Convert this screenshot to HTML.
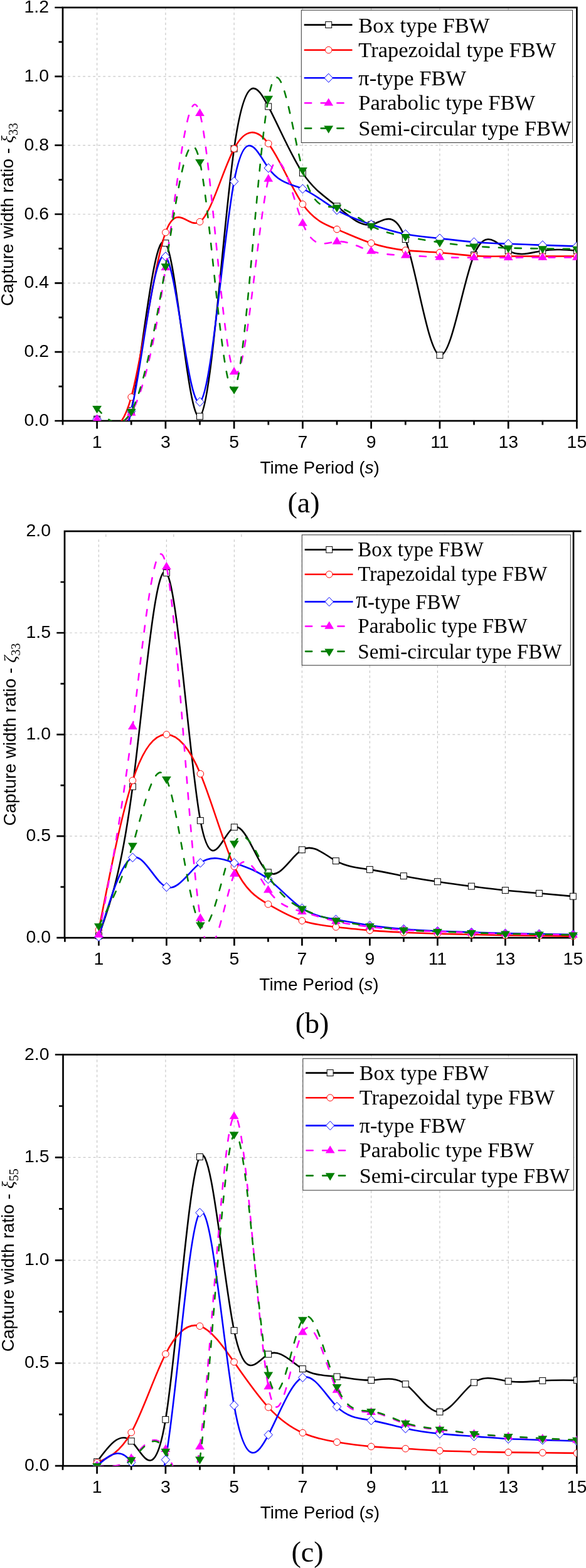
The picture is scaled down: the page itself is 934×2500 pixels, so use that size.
<!DOCTYPE html>
<html><head><meta charset="utf-8"><title>Capture width ratio</title>
<style>
html,body{margin:0;padding:0;background:#fff}
svg{display:block}
.t{font-family:"Liberation Sans",Arial,sans-serif;font-size:28.4px;fill:#000}
.ti{font-family:"Liberation Sans",Arial,sans-serif;font-size:28px;fill:#000}
.gk{font-family:"Liberation Serif","DejaVu Serif",serif;font-size:28px;font-style:italic}
.sub{font-family:"Liberation Serif",serif;font-size:20px}
.lg{font-family:"Liberation Serif","Times New Roman",serif;fill:#000}
.cap{font-family:"Liberation Serif","Times New Roman",serif;font-size:46px;fill:#000}
</style></head><body>
<svg width="934" height="2500" viewBox="0 0 934 2500">
<rect width="934" height="2500" fill="#fff"/>
<clipPath id="ca"><rect x="100" y="12" width="819.4" height="659"/></clipPath>
<path d="M154.6 12V671M263.9 12V671M373.1 12V671M482.4 12V671M591.6 12V671M700.9 12V671M810.2 12V671M100 561.2H919.4M100 451.3H919.4M100 341.5H919.4M100 231.6H919.4M100 121.8H919.4" stroke="#c8c8c8" stroke-width="1.2" stroke-dasharray="3.9 4.13" fill="none"/>
<path d="M100.0 671v6.5M154.6 671v12.5M209.2 671v6.5M263.9 671v12.5M318.5 671v6.5M373.1 671v12.5M427.8 671v6.5M482.4 671v12.5M537.0 671v6.5M591.6 671v12.5M646.3 671v6.5M700.9 671v12.5M755.5 671v6.5M810.2 671v12.5M864.8 671v6.5M919.4 671v12.5M100 671.0h-12.7M100 561.2h-12.7M100 451.3h-12.7M100 341.5h-12.7M100 231.6h-12.7M100 121.8h-12.7M100 12.0h-12.7M100 616.1h-6.5M100 506.2h-6.5M100 396.4h-6.5M100 286.6h-6.5M100 176.7h-6.5M100 66.9h-6.5" stroke="#000" stroke-width="2.7" fill="none"/>
<rect x="100" y="12" width="819.4" height="659" fill="none" stroke="#000" stroke-width="2.7"/>
<path d="M154.6 668.3C172.8 704.3 191.0 740.4 209.2 654.5C227.4 568.6 245.6 360.8 263.9 387.6C282.1 414.4 300.3 675.9 318.5 663.9C336.7 651.9 354.9 366.4 373.1 237.1C391.3 107.8 409.5 134.7 427.8 169.9C446.0 205.0 464.2 248.5 482.4 275.9C500.6 303.2 518.8 314.3 537.0 328.8C555.2 343.4 573.4 361.5 591.6 358.1C609.9 354.7 628.1 329.8 646.3 381.6C664.5 433.3 682.7 561.7 700.9 566.4C719.1 571.0 737.3 452.0 755.5 406.6C773.7 361.1 792.0 389.3 810.2 399.7C828.4 410.1 846.6 402.7 864.8 399.7C883.0 396.7 901.2 398.2 919.4 399.7" fill="none" stroke="#000" stroke-width="2.6" clip-path="url(#ca)"/>
<g clip-path="url(#ca)"><rect x="149.7" y="663.3" width="9.9" height="9.9" fill="#fff" stroke="#000" stroke-width="1"/><rect x="204.3" y="649.6" width="9.9" height="9.9" fill="#fff" stroke="#000" stroke-width="1"/><rect x="258.9" y="382.7" width="9.9" height="9.9" fill="#fff" stroke="#000" stroke-width="1"/><rect x="313.5" y="658.9" width="9.9" height="9.9" fill="#fff" stroke="#000" stroke-width="1"/><rect x="368.2" y="232.2" width="9.9" height="9.9" fill="#fff" stroke="#000" stroke-width="1"/><rect x="422.8" y="164.9" width="9.9" height="9.9" fill="#fff" stroke="#000" stroke-width="1"/><rect x="477.4" y="270.9" width="9.9" height="9.9" fill="#fff" stroke="#000" stroke-width="1"/><rect x="532.1" y="323.9" width="9.9" height="9.9" fill="#fff" stroke="#000" stroke-width="1"/><rect x="586.7" y="353.2" width="9.9" height="9.9" fill="#fff" stroke="#000" stroke-width="1"/><rect x="641.3" y="376.6" width="9.9" height="9.9" fill="#fff" stroke="#000" stroke-width="1"/><rect x="696.0" y="561.4" width="9.9" height="9.9" fill="#fff" stroke="#000" stroke-width="1"/><rect x="750.6" y="401.6" width="9.9" height="9.9" fill="#fff" stroke="#000" stroke-width="1"/><rect x="805.2" y="394.7" width="9.9" height="9.9" fill="#fff" stroke="#000" stroke-width="1"/><rect x="859.8" y="394.7" width="9.9" height="9.9" fill="#fff" stroke="#000" stroke-width="1"/><rect x="914.5" y="394.7" width="9.9" height="9.9" fill="#fff" stroke="#000" stroke-width="1"/></g>
<path d="M154.6 668.3C172.8 683.5 191.0 698.7 209.2 633.1C227.4 567.5 245.6 421.0 263.9 370.6C282.1 320.2 300.3 365.8 318.5 353.6C336.7 341.3 354.9 271.3 373.1 237.1C391.3 203.0 409.5 204.8 427.8 228.9C446.0 253.0 464.2 299.2 482.4 325.6C500.6 351.9 518.8 358.2 537.0 365.6C555.2 373.1 573.4 381.6 591.6 387.6C609.9 393.7 628.1 397.3 646.3 399.1C664.5 401.0 682.7 401.2 700.9 402.7C719.1 404.1 737.3 406.8 755.5 407.9C773.7 409.1 792.0 408.8 810.2 408.6C828.4 408.5 846.6 408.6 864.8 408.6C883.0 408.7 901.2 408.6 919.4 408.5" fill="none" stroke="#f00" stroke-width="2.6" clip-path="url(#ca)"/>
<g clip-path="url(#ca)"><circle cx="154.6" cy="668.3" r="5.3" fill="#fff" stroke="#f00" stroke-width="1"/><circle cx="209.2" cy="633.1" r="5.3" fill="#fff" stroke="#f00" stroke-width="1"/><circle cx="263.9" cy="370.6" r="5.3" fill="#fff" stroke="#f00" stroke-width="1"/><circle cx="318.5" cy="353.6" r="5.3" fill="#fff" stroke="#f00" stroke-width="1"/><circle cx="373.1" cy="237.1" r="5.3" fill="#fff" stroke="#f00" stroke-width="1"/><circle cx="427.8" cy="228.9" r="5.3" fill="#fff" stroke="#f00" stroke-width="1"/><circle cx="482.4" cy="325.6" r="5.3" fill="#fff" stroke="#f00" stroke-width="1"/><circle cx="537.0" cy="365.6" r="5.3" fill="#fff" stroke="#f00" stroke-width="1"/><circle cx="591.6" cy="387.6" r="5.3" fill="#fff" stroke="#f00" stroke-width="1"/><circle cx="646.3" cy="399.1" r="5.3" fill="#fff" stroke="#f00" stroke-width="1"/><circle cx="700.9" cy="402.7" r="5.3" fill="#fff" stroke="#f00" stroke-width="1"/><circle cx="755.5" cy="407.9" r="5.3" fill="#fff" stroke="#f00" stroke-width="1"/><circle cx="810.2" cy="408.6" r="5.3" fill="#fff" stroke="#f00" stroke-width="1"/><circle cx="864.8" cy="408.6" r="5.3" fill="#fff" stroke="#f00" stroke-width="1"/><circle cx="919.4" cy="408.5" r="5.3" fill="#fff" stroke="#f00" stroke-width="1"/></g>
<path d="M154.6 668.3C172.8 700.7 191.0 733.1 209.2 655.6C227.4 578.2 245.6 390.8 263.9 409.0C282.1 427.3 300.3 651.0 318.5 640.8C336.7 630.6 354.9 386.3 373.1 289.3C391.3 192.3 409.5 242.6 427.8 267.9C446.0 293.1 464.2 293.3 482.4 301.1C500.6 308.8 518.8 324.1 537.0 334.9C555.2 345.7 573.4 351.9 591.6 358.0C609.9 364.0 628.1 369.8 646.3 373.3C664.5 376.9 682.7 378.3 700.9 380.1C719.1 382.0 737.3 384.5 755.5 386.0C773.7 387.5 792.0 388.0 810.2 388.7C828.4 389.4 846.6 390.2 864.8 390.9C883.0 391.6 901.2 392.1 919.4 392.6" fill="none" stroke="#00f" stroke-width="2.6" clip-path="url(#ca)"/>
<g clip-path="url(#ca)"><path d="M147.9 668.3L154.6 661.2L161.3 668.3L154.6 675.4Z" fill="#fff" stroke="#00f" stroke-width="1"/><path d="M202.5 655.6L209.2 648.5L215.9 655.6L209.2 662.7Z" fill="#fff" stroke="#00f" stroke-width="1"/><path d="M257.2 409.0L263.9 401.9L270.6 409.0L263.9 416.1Z" fill="#fff" stroke="#00f" stroke-width="1"/><path d="M311.8 640.8L318.5 633.7L325.2 640.8L318.5 647.9Z" fill="#fff" stroke="#00f" stroke-width="1"/><path d="M366.4 289.3L373.1 282.2L379.8 289.3L373.1 296.4Z" fill="#fff" stroke="#00f" stroke-width="1"/><path d="M421.1 267.9L427.8 260.8L434.4 267.9L427.8 275.0Z" fill="#fff" stroke="#00f" stroke-width="1"/><path d="M475.7 301.1L482.4 294.0L489.1 301.1L482.4 308.2Z" fill="#fff" stroke="#00f" stroke-width="1"/><path d="M530.3 334.9L537.0 327.8L543.7 334.9L537.0 342.0Z" fill="#fff" stroke="#00f" stroke-width="1"/><path d="M584.9 358.0L591.6 350.9L598.3 358.0L591.6 365.1Z" fill="#fff" stroke="#00f" stroke-width="1"/><path d="M639.6 373.3L646.3 366.2L653.0 373.3L646.3 380.4Z" fill="#fff" stroke="#00f" stroke-width="1"/><path d="M694.2 380.1L700.9 373.0L707.6 380.1L700.9 387.2Z" fill="#fff" stroke="#00f" stroke-width="1"/><path d="M748.8 386.0L755.5 378.9L762.2 386.0L755.5 393.1Z" fill="#fff" stroke="#00f" stroke-width="1"/><path d="M803.5 388.7L810.2 381.6L816.9 388.7L810.2 395.8Z" fill="#fff" stroke="#00f" stroke-width="1"/><path d="M858.1 390.9L864.8 383.8L871.5 390.9L864.8 398.0Z" fill="#fff" stroke="#00f" stroke-width="1"/><path d="M912.7 392.6L919.4 385.5L926.1 392.6L919.4 399.7Z" fill="#fff" stroke="#00f" stroke-width="1"/></g>
<path d="M154.6 668.3C172.8 678.8 191.0 689.3 209.2 658.4C227.4 627.4 245.6 554.9 263.9 426.6C282.1 298.3 300.3 114.1 318.5 180.6C336.7 247.0 354.9 564.0 373.1 593.0C391.3 622.1 409.5 363.2 427.8 285.5C446.0 207.8 464.2 311.3 482.4 356.0C500.6 400.7 518.8 386.6 537.0 385.1C555.2 383.7 573.4 394.8 591.6 400.4C609.9 406.0 628.1 406.2 646.3 407.1C664.5 407.9 682.7 409.4 700.9 410.1C719.1 410.8 737.3 410.7 755.5 410.7C773.7 410.7 792.0 410.7 810.2 410.7C828.4 410.6 846.6 410.5 864.8 410.4C883.0 410.3 901.2 410.4 919.4 410.4" fill="none" stroke="#f0f" stroke-width="2.6" stroke-dasharray="10.2 15.5" stroke-linecap="round" clip-path="url(#ca)"/>
<g clip-path="url(#ca)"><path d="M147.2 672.6L162.0 672.6L154.6 660.4Z" fill="#f0f"/><path d="M201.8 662.7L216.6 662.7L209.2 650.5Z" fill="#f0f"/><path d="M256.5 430.9L271.3 430.9L263.9 418.7Z" fill="#f0f"/><path d="M311.1 184.9L325.9 184.9L318.5 172.7Z" fill="#f0f"/><path d="M365.7 597.3L380.5 597.3L373.1 585.1Z" fill="#f0f"/><path d="M420.4 289.8L435.1 289.8L427.8 277.6Z" fill="#f0f"/><path d="M475.0 360.3L489.8 360.3L482.4 348.1Z" fill="#f0f"/><path d="M529.6 389.4L544.4 389.4L537.0 377.2Z" fill="#f0f"/><path d="M584.2 404.7L599.0 404.7L591.6 392.5Z" fill="#f0f"/><path d="M638.9 411.4L653.7 411.4L646.3 399.2Z" fill="#f0f"/><path d="M693.5 414.4L708.3 414.4L700.9 402.2Z" fill="#f0f"/><path d="M748.1 415.0L762.9 415.0L755.5 402.8Z" fill="#f0f"/><path d="M802.8 415.0L817.6 415.0L810.2 402.8Z" fill="#f0f"/><path d="M857.4 414.7L872.2 414.7L864.8 402.5Z" fill="#f0f"/><path d="M912.0 414.7L926.8 414.7L919.4 402.5Z" fill="#f0f"/></g>
<path d="M154.6 651.2C172.8 670.5 191.0 689.8 209.2 656.2C227.4 622.6 245.6 536.1 263.9 424.4C282.1 312.7 300.3 175.7 318.5 258.0C336.7 340.3 354.9 641.8 373.1 620.7C391.3 599.7 409.5 255.9 427.8 156.9C446.0 58.0 464.2 203.7 482.4 271.2C500.6 338.6 518.8 327.7 537.0 330.5C555.2 333.3 573.4 349.8 591.6 359.9C609.9 370.0 628.1 373.7 646.3 377.2C664.5 380.7 682.7 383.9 700.9 386.5C719.1 389.1 737.3 391.2 755.5 392.6C773.7 394.0 792.0 394.7 810.2 395.3C828.4 395.9 846.6 396.2 864.8 396.4C883.0 396.6 901.2 396.8 919.4 396.9" fill="none" stroke="#007f00" stroke-width="2.6" stroke-dasharray="10.2 15.5" stroke-linecap="round" clip-path="url(#ca)"/>
<g clip-path="url(#ca)"><path d="M147.2 647.1L162.0 647.1L154.6 659.3Z" fill="#007f00"/><path d="M201.8 652.1L216.6 652.1L209.2 664.3Z" fill="#007f00"/><path d="M256.5 420.3L271.3 420.3L263.9 432.5Z" fill="#007f00"/><path d="M311.1 253.9L325.9 253.9L318.5 266.1Z" fill="#007f00"/><path d="M365.7 616.6L380.5 616.6L373.1 628.8Z" fill="#007f00"/><path d="M420.4 152.8L435.1 152.8L427.8 165.0Z" fill="#007f00"/><path d="M475.0 267.1L489.8 267.1L482.4 279.3Z" fill="#007f00"/><path d="M529.6 326.4L544.4 326.4L537.0 338.6Z" fill="#007f00"/><path d="M584.2 355.8L599.0 355.8L591.6 368.0Z" fill="#007f00"/><path d="M638.9 373.1L653.7 373.1L646.3 385.3Z" fill="#007f00"/><path d="M693.5 382.4L708.3 382.4L700.9 394.6Z" fill="#007f00"/><path d="M748.1 388.5L762.9 388.5L755.5 400.7Z" fill="#007f00"/><path d="M802.8 391.2L817.6 391.2L810.2 403.4Z" fill="#007f00"/><path d="M857.4 392.3L872.2 392.3L864.8 404.5Z" fill="#007f00"/><path d="M912.0 392.8L926.8 392.8L919.4 405.0Z" fill="#007f00"/></g>
<text x="154.6" y="714.0" text-anchor="middle" class="t">1</text>
<text x="263.9" y="714.0" text-anchor="middle" class="t">3</text>
<text x="373.1" y="714.0" text-anchor="middle" class="t">5</text>
<text x="482.4" y="714.0" text-anchor="middle" class="t">7</text>
<text x="591.6" y="714.0" text-anchor="middle" class="t">9</text>
<text x="700.9" y="714.0" text-anchor="middle" class="t">11</text>
<text x="810.2" y="714.0" text-anchor="middle" class="t">13</text>
<text x="919.4" y="714.0" text-anchor="middle" class="t">15</text>
<text x="78.0" y="679.0" text-anchor="end" class="t">0.0</text>
<text x="78.0" y="569.2" text-anchor="end" class="t">0.2</text>
<text x="78.0" y="459.3" text-anchor="end" class="t">0.4</text>
<text x="78.0" y="349.5" text-anchor="end" class="t">0.6</text>
<text x="78.0" y="239.6" text-anchor="end" class="t">0.8</text>
<text x="78.0" y="129.8" text-anchor="end" class="t">1.0</text>
<text x="78.0" y="20.0" text-anchor="end" class="t">1.2</text>
<text x="509.7" y="755.0" text-anchor="middle" class="ti">Time Period (<tspan font-style="italic">s</tspan>)</text>
<text transform="translate(21.2 342.0) rotate(-90)" text-anchor="middle" class="ti">Capture width ratio - <tspan class="gk">ξ</tspan><tspan class="sub" dy="7">33</tspan></text>
<text x="484" y="817" text-anchor="middle" class="cap">(a)</text>
<rect x="480.3" y="16.2" width="432.2" height="211.3" fill="#fff" stroke="#333" stroke-width="1"/>
<path d="M484.7 39.6h76.8" stroke="#000" stroke-width="2.6" fill="none"/>
<rect x="518.8" y="34.6" width="9.9" height="9.9" fill="#fff" stroke="#000" stroke-width="1"/>
<text x="571.3" y="51.6" class="lg" font-size="34.5">Box type FBW</text>
<path d="M484.7 79.7h76.8" stroke="#f00" stroke-width="2.6" fill="none"/>
<circle cx="523.7" cy="79.7" r="5.3" fill="#fff" stroke="#f00" stroke-width="1"/>
<text x="571.3" y="91.3" class="lg" font-size="34.5">Trapezoidal type FBW</text>
<path d="M484.7 124.3h76.8" stroke="#00f" stroke-width="2.6" fill="none"/>
<path d="M517.0 124.3L523.7 117.2L530.4 124.3L523.7 131.4Z" fill="#fff" stroke="#00f" stroke-width="1"/>
<text x="571.3" y="135.6" class="lg" font-size="34.5">π-type FBW</text>
<path d="M486.0 164.3h74.2" stroke="#f0f" stroke-width="2.6" stroke-dasharray="10.2 15.5" stroke-linecap="round" fill="none"/>
<path d="M516.3 168.6L531.1 168.6L523.7 156.4Z" fill="#f0f"/>
<text x="571.3" y="175.3" class="lg" font-size="34.5">Parabolic type FBW</text>
<path d="M486.0 204.6h74.2" stroke="#007f00" stroke-width="2.6" stroke-dasharray="10.2 15.5" stroke-linecap="round" fill="none"/>
<path d="M516.3 200.5L531.1 200.5L523.7 212.7Z" fill="#007f00"/>
<text x="571.3" y="215.7" class="lg" font-size="34.5">Semi-circular type FBW</text>
<clipPath id="cb"><rect x="103" y="847" width="811" height="648.2"/></clipPath>
<path d="M157.4 860.2V1495.2M168.8 852v4M265.4 860.2V1495.2M276.8 852v4M373.4 860.2V1495.2M384.8 852v4M481.4 860.2V1495.2M492.8 852v4M589.4 860.2V1495.2M600.8 852v4M697.4 860.2V1495.2M708.8 852v4M805.4 860.2V1495.2M816.8 852v4M103 1333.2H914M103 1171.1H914M103 1009.0H914" stroke="#c8c8c8" stroke-width="1.2" stroke-dasharray="3.9 4.13" fill="none"/>
<path d="M103.4 1495.2v6.5M157.4 1495.2v12.5M211.4 1495.2v6.5M265.4 1495.2v12.5M319.4 1495.2v6.5M373.4 1495.2v12.5M427.4 1495.2v6.5M481.4 1495.2v12.5M535.4 1495.2v6.5M589.4 1495.2v12.5M643.4 1495.2v6.5M697.4 1495.2v12.5M751.4 1495.2v6.5M805.4 1495.2v12.5M859.4 1495.2v6.5M913.4 1495.2v12.5M103 1495.2h-12.7M103 1333.2h-12.7M103 1171.1h-12.7M103 1009.0h-12.7M103 1414.2h-6.5M103 1252.1h-6.5M103 1090.1h-6.5M103 928.0h-6.5" stroke="#000" stroke-width="2.7" fill="none"/>
<rect x="103" y="847" width="811" height="648.2" fill="none" stroke="#000" stroke-width="2.7"/>
<path d="M914 847h12.5" stroke="#000" stroke-width="2.7"/>
<path d="M157.4 1492.0C175.4 1442.1 193.4 1392.2 211.4 1254.1C229.4 1116.0 247.4 889.7 265.4 913.4C283.4 937.2 301.4 1211.2 319.4 1308.3C337.4 1405.5 355.4 1325.9 373.4 1318.9C391.4 1311.9 409.4 1377.5 427.4 1390.8C445.4 1404.2 463.4 1365.2 481.4 1354.9C499.4 1344.5 517.4 1362.9 535.4 1372.7C553.4 1382.5 571.4 1383.7 589.4 1386.4C607.4 1389.1 625.4 1393.2 643.4 1396.7C661.4 1400.2 679.4 1403.1 697.4 1405.7C715.4 1408.4 733.4 1410.8 751.4 1413.1C769.4 1415.4 787.4 1417.6 805.4 1419.5C823.4 1421.3 841.4 1422.8 859.4 1424.3C877.4 1425.9 895.4 1427.5 913.4 1429.1" fill="none" stroke="#000" stroke-width="2.6" clip-path="url(#cb)"/>
<g><rect x="152.5" y="1487.0" width="9.9" height="9.9" fill="#fff" stroke="#000" stroke-width="1"/><rect x="206.5" y="1249.2" width="9.9" height="9.9" fill="#fff" stroke="#000" stroke-width="1"/><rect x="260.4" y="908.5" width="9.9" height="9.9" fill="#fff" stroke="#000" stroke-width="1"/><rect x="314.4" y="1303.4" width="9.9" height="9.9" fill="#fff" stroke="#000" stroke-width="1"/><rect x="368.4" y="1313.9" width="9.9" height="9.9" fill="#fff" stroke="#000" stroke-width="1"/><rect x="422.4" y="1385.9" width="9.9" height="9.9" fill="#fff" stroke="#000" stroke-width="1"/><rect x="476.4" y="1349.9" width="9.9" height="9.9" fill="#fff" stroke="#000" stroke-width="1"/><rect x="530.4" y="1367.7" width="9.9" height="9.9" fill="#fff" stroke="#000" stroke-width="1"/><rect x="584.4" y="1381.4" width="9.9" height="9.9" fill="#fff" stroke="#000" stroke-width="1"/><rect x="638.4" y="1391.7" width="9.9" height="9.9" fill="#fff" stroke="#000" stroke-width="1"/><rect x="692.4" y="1400.8" width="9.9" height="9.9" fill="#fff" stroke="#000" stroke-width="1"/><rect x="746.4" y="1408.1" width="9.9" height="9.9" fill="#fff" stroke="#000" stroke-width="1"/><rect x="800.4" y="1414.5" width="9.9" height="9.9" fill="#fff" stroke="#000" stroke-width="1"/><rect x="854.4" y="1419.4" width="9.9" height="9.9" fill="#fff" stroke="#000" stroke-width="1"/><rect x="908.4" y="1424.2" width="9.9" height="9.9" fill="#fff" stroke="#000" stroke-width="1"/></g>
<path d="M157.4 1482.7C175.4 1391.1 193.4 1299.5 211.4 1244.4C229.4 1189.3 247.4 1170.7 265.4 1171.1C283.4 1171.5 301.4 1191.0 319.4 1233.8C337.4 1276.7 355.4 1342.9 373.4 1381.6C391.4 1420.2 409.4 1431.3 427.4 1441.7C445.4 1452.2 463.4 1462.0 481.4 1468.0C499.4 1473.9 517.4 1476.0 535.4 1478.0C553.4 1480.0 571.4 1482.0 589.4 1483.4C607.4 1484.9 625.4 1485.8 643.4 1486.7C661.4 1487.5 679.4 1488.2 697.4 1488.7C715.4 1489.2 733.4 1489.6 751.4 1490.0C769.4 1490.5 787.4 1491.0 805.4 1491.3C823.4 1491.6 841.4 1491.8 859.4 1492.0C877.4 1492.1 895.4 1492.4 913.4 1492.6" fill="none" stroke="#f00" stroke-width="2.6" clip-path="url(#cb)"/>
<g><circle cx="157.4" cy="1482.7" r="5.3" fill="#fff" stroke="#f00" stroke-width="1"/><circle cx="211.4" cy="1244.4" r="5.3" fill="#fff" stroke="#f00" stroke-width="1"/><circle cx="265.4" cy="1171.1" r="5.3" fill="#fff" stroke="#f00" stroke-width="1"/><circle cx="319.4" cy="1233.8" r="5.3" fill="#fff" stroke="#f00" stroke-width="1"/><circle cx="373.4" cy="1381.6" r="5.3" fill="#fff" stroke="#f00" stroke-width="1"/><circle cx="427.4" cy="1441.7" r="5.3" fill="#fff" stroke="#f00" stroke-width="1"/><circle cx="481.4" cy="1468.0" r="5.3" fill="#fff" stroke="#f00" stroke-width="1"/><circle cx="535.4" cy="1478.0" r="5.3" fill="#fff" stroke="#f00" stroke-width="1"/><circle cx="589.4" cy="1483.4" r="5.3" fill="#fff" stroke="#f00" stroke-width="1"/><circle cx="643.4" cy="1486.7" r="5.3" fill="#fff" stroke="#f00" stroke-width="1"/><circle cx="697.4" cy="1488.7" r="5.3" fill="#fff" stroke="#f00" stroke-width="1"/><circle cx="751.4" cy="1490.0" r="5.3" fill="#fff" stroke="#f00" stroke-width="1"/><circle cx="805.4" cy="1491.3" r="5.3" fill="#fff" stroke="#f00" stroke-width="1"/><circle cx="859.4" cy="1492.0" r="5.3" fill="#fff" stroke="#f00" stroke-width="1"/><circle cx="913.4" cy="1492.6" r="5.3" fill="#fff" stroke="#f00" stroke-width="1"/></g>
<path d="M157.4 1493.6C175.4 1433.7 193.4 1373.8 211.4 1367.2C229.4 1360.6 247.4 1407.3 265.4 1414.3C283.4 1421.4 301.4 1388.7 319.4 1375.8C337.4 1362.8 355.4 1369.5 373.4 1375.8C391.4 1382.1 409.4 1388.0 427.4 1401.5C445.4 1415.1 463.4 1436.3 481.4 1448.2C499.4 1460.2 517.4 1462.9 535.4 1466.0C553.4 1469.2 571.4 1472.8 589.4 1475.4C607.4 1478.1 625.4 1479.9 643.4 1481.3C661.4 1482.7 679.4 1483.7 697.4 1484.5C715.4 1485.3 733.4 1485.9 751.4 1486.4C769.4 1487.0 787.4 1487.6 805.4 1488.1C823.4 1488.5 841.4 1488.7 859.4 1489.0C877.4 1489.3 895.4 1489.7 913.4 1490.0" fill="none" stroke="#00f" stroke-width="2.6" clip-path="url(#cb)"/>
<g><path d="M150.7 1493.6L157.4 1486.5L164.1 1493.6L157.4 1500.7Z" fill="#fff" stroke="#00f" stroke-width="1"/><path d="M204.7 1367.2L211.4 1360.1L218.1 1367.2L211.4 1374.3Z" fill="#fff" stroke="#00f" stroke-width="1"/><path d="M258.7 1414.3L265.4 1407.2L272.1 1414.3L265.4 1421.4Z" fill="#fff" stroke="#00f" stroke-width="1"/><path d="M312.7 1375.8L319.4 1368.7L326.1 1375.8L319.4 1382.9Z" fill="#fff" stroke="#00f" stroke-width="1"/><path d="M366.7 1375.8L373.4 1368.7L380.1 1375.8L373.4 1382.9Z" fill="#fff" stroke="#00f" stroke-width="1"/><path d="M420.7 1401.5L427.4 1394.4L434.1 1401.5L427.4 1408.6Z" fill="#fff" stroke="#00f" stroke-width="1"/><path d="M474.7 1448.2L481.4 1441.1L488.1 1448.2L481.4 1455.3Z" fill="#fff" stroke="#00f" stroke-width="1"/><path d="M528.7 1466.0L535.4 1458.9L542.1 1466.0L535.4 1473.1Z" fill="#fff" stroke="#00f" stroke-width="1"/><path d="M582.7 1475.4L589.4 1468.3L596.1 1475.4L589.4 1482.5Z" fill="#fff" stroke="#00f" stroke-width="1"/><path d="M636.7 1481.3L643.4 1474.2L650.1 1481.3L643.4 1488.4Z" fill="#fff" stroke="#00f" stroke-width="1"/><path d="M690.7 1484.5L697.4 1477.4L704.1 1484.5L697.4 1491.6Z" fill="#fff" stroke="#00f" stroke-width="1"/><path d="M744.7 1486.4L751.4 1479.3L758.1 1486.4L751.4 1493.5Z" fill="#fff" stroke="#00f" stroke-width="1"/><path d="M798.7 1488.1L805.4 1481.0L812.1 1488.1L805.4 1495.2Z" fill="#fff" stroke="#00f" stroke-width="1"/><path d="M852.7 1489.0L859.4 1481.9L866.1 1489.0L859.4 1496.1Z" fill="#fff" stroke="#00f" stroke-width="1"/><path d="M906.7 1490.0L913.4 1482.9L920.1 1490.0L913.4 1497.1Z" fill="#fff" stroke="#00f" stroke-width="1"/></g>
<path d="M157.4 1490.5C175.4 1396.7 193.4 1302.9 211.4 1158.6C229.4 1014.3 247.4 819.4 265.4 903.7C283.4 988.0 301.4 1351.4 319.4 1464.2C337.4 1577.0 355.4 1439.2 373.4 1393.4C391.4 1347.7 409.4 1394.0 427.4 1419.2C445.4 1444.4 463.4 1448.5 481.4 1453.6C499.4 1458.6 517.4 1464.7 535.4 1468.9C553.4 1473.2 571.4 1475.6 589.4 1477.7C607.4 1479.8 625.4 1481.7 643.4 1482.9C661.4 1484.1 679.4 1484.6 697.4 1485.2C715.4 1485.8 733.4 1486.5 751.4 1487.1C769.4 1487.7 787.4 1488.3 805.4 1488.7C823.4 1489.1 841.4 1489.4 859.4 1489.7C877.4 1490.0 895.4 1490.3 913.4 1490.7" fill="none" stroke="#f0f" stroke-width="2.6" stroke-dasharray="10.2 15.5" stroke-linecap="round" clip-path="url(#cb)"/>
<g><path d="M150.0 1494.8L164.8 1494.8L157.4 1482.6Z" fill="#f0f"/><path d="M204.0 1162.9L218.8 1162.9L211.4 1150.7Z" fill="#f0f"/><path d="M258.0 908.0L272.8 908.0L265.4 895.8Z" fill="#f0f"/><path d="M312.0 1468.5L326.8 1468.5L319.4 1456.3Z" fill="#f0f"/><path d="M366.0 1397.7L380.8 1397.7L373.4 1385.5Z" fill="#f0f"/><path d="M420.0 1423.5L434.8 1423.5L427.4 1411.3Z" fill="#f0f"/><path d="M474.0 1457.9L488.8 1457.9L481.4 1445.7Z" fill="#f0f"/><path d="M528.0 1473.2L542.8 1473.2L535.4 1461.0Z" fill="#f0f"/><path d="M582.0 1482.0L596.8 1482.0L589.4 1469.8Z" fill="#f0f"/><path d="M636.0 1487.2L650.8 1487.2L643.4 1475.0Z" fill="#f0f"/><path d="M690.0 1489.5L704.8 1489.5L697.4 1477.3Z" fill="#f0f"/><path d="M744.0 1491.4L758.8 1491.4L751.4 1479.2Z" fill="#f0f"/><path d="M798.0 1493.0L812.8 1493.0L805.4 1480.8Z" fill="#f0f"/><path d="M852.0 1494.0L866.8 1494.0L859.4 1481.8Z" fill="#f0f"/><path d="M906.0 1495.0L920.8 1495.0L913.4 1482.8Z" fill="#f0f"/></g>
<path d="M157.4 1476.4C175.4 1442.2 193.4 1408.0 211.4 1347.9C229.4 1287.7 247.4 1201.5 265.4 1242.2C283.4 1282.9 301.4 1450.6 319.4 1474.5C337.4 1498.4 355.4 1378.5 373.4 1344.7C391.4 1310.8 409.4 1362.8 427.4 1395.1C445.4 1427.3 463.4 1439.7 481.4 1448.7C499.4 1457.7 517.4 1463.3 535.4 1467.3C553.4 1471.4 571.4 1474.0 589.4 1476.4C607.4 1478.8 625.4 1481.1 643.4 1482.6C661.4 1484.0 679.4 1484.5 697.4 1485.2C715.4 1485.8 733.4 1486.5 751.4 1487.1C769.4 1487.7 787.4 1488.3 805.4 1488.7C823.4 1489.1 841.4 1489.4 859.4 1489.7C877.4 1490.0 895.4 1490.3 913.4 1490.7" fill="none" stroke="#007f00" stroke-width="2.6" stroke-dasharray="10.2 15.5" stroke-linecap="round" clip-path="url(#cb)"/>
<g><path d="M150.0 1472.3L164.8 1472.3L157.4 1484.5Z" fill="#007f00"/><path d="M204.0 1343.8L218.8 1343.8L211.4 1356.0Z" fill="#007f00"/><path d="M258.0 1238.1L272.8 1238.1L265.4 1250.3Z" fill="#007f00"/><path d="M312.0 1470.4L326.8 1470.4L319.4 1482.6Z" fill="#007f00"/><path d="M366.0 1340.6L380.8 1340.6L373.4 1352.8Z" fill="#007f00"/><path d="M420.0 1391.0L434.8 1391.0L427.4 1403.2Z" fill="#007f00"/><path d="M474.0 1444.6L488.8 1444.6L481.4 1456.8Z" fill="#007f00"/><path d="M528.0 1463.2L542.8 1463.2L535.4 1475.4Z" fill="#007f00"/><path d="M582.0 1472.3L596.8 1472.3L589.4 1484.5Z" fill="#007f00"/><path d="M636.0 1478.5L650.8 1478.5L643.4 1490.7Z" fill="#007f00"/><path d="M690.0 1481.1L704.8 1481.1L697.4 1493.3Z" fill="#007f00"/><path d="M744.0 1483.0L758.8 1483.0L751.4 1495.2Z" fill="#007f00"/><path d="M798.0 1484.6L812.8 1484.6L805.4 1496.8Z" fill="#007f00"/><path d="M852.0 1485.6L866.8 1485.6L859.4 1497.8Z" fill="#007f00"/><path d="M906.0 1486.6L920.8 1486.6L913.4 1498.8Z" fill="#007f00"/></g>
<text x="157.4" y="1538.2" text-anchor="middle" class="t">1</text>
<text x="265.4" y="1538.2" text-anchor="middle" class="t">3</text>
<text x="373.4" y="1538.2" text-anchor="middle" class="t">5</text>
<text x="481.4" y="1538.2" text-anchor="middle" class="t">7</text>
<text x="589.4" y="1538.2" text-anchor="middle" class="t">9</text>
<text x="697.4" y="1538.2" text-anchor="middle" class="t">11</text>
<text x="805.4" y="1538.2" text-anchor="middle" class="t">13</text>
<text x="913.4" y="1538.2" text-anchor="middle" class="t">15</text>
<text x="81.0" y="1503.2" text-anchor="end" class="t">0.0</text>
<text x="81.0" y="1341.2" text-anchor="end" class="t">0.5</text>
<text x="81.0" y="1179.1" text-anchor="end" class="t">1.0</text>
<text x="81.0" y="1017.0" text-anchor="end" class="t">1.5</text>
<text x="81.0" y="855.0" text-anchor="end" class="t">2.0</text>
<text x="508.5" y="1579.2" text-anchor="middle" class="ti">Time Period (<tspan font-style="italic">s</tspan>)</text>
<text transform="translate(24.5 1171.1) rotate(-90)" text-anchor="middle" class="ti">Capture width ratio - <tspan class="gk">ζ</tspan><tspan class="sub" dy="7">33</tspan></text>
<text x="497.5" y="1646.8" text-anchor="middle" class="cap">(b)</text>
<rect x="481.3" y="852.8" width="428" height="208" fill="#fff" stroke="#333" stroke-width="1"/>
<path d="M485.7 876.4h76.8" stroke="#000" stroke-width="2.6" fill="none"/>
<rect x="519.8" y="871.4" width="9.9" height="9.9" fill="#fff" stroke="#000" stroke-width="1"/>
<text x="570.3" y="886.8" class="lg" font-size="33.1">Box type FBW</text>
<path d="M485.7 915.8h76.8" stroke="#f00" stroke-width="2.6" fill="none"/>
<circle cx="524.7" cy="915.8" r="5.3" fill="#fff" stroke="#f00" stroke-width="1"/>
<text x="570.3" y="926.4" class="lg" font-size="33.1">Trapezoidal type FBW</text>
<path d="M485.7 959.4h76.8" stroke="#00f" stroke-width="2.6" fill="none"/>
<path d="M518.0 959.4L524.7 952.3L531.4 959.4L524.7 966.5Z" fill="#fff" stroke="#00f" stroke-width="1"/>
<text x="570.3" y="971" class="lg" font-size="33.1"><tspan font-size="37" dx="-3" dy="-2">π</tspan><tspan dy="2">-type FBW</tspan></text>
<path d="M487.0 998.5h74.2" stroke="#f0f" stroke-width="2.6" stroke-dasharray="10.2 15.5" stroke-linecap="round" fill="none"/>
<path d="M517.3 1002.8L532.1 1002.8L524.7 990.6Z" fill="#f0f"/>
<text x="570.3" y="1009.1" class="lg" font-size="33.1">Parabolic type FBW</text>
<path d="M487.0 1038.6h74.2" stroke="#007f00" stroke-width="2.6" stroke-dasharray="10.2 15.5" stroke-linecap="round" fill="none"/>
<path d="M517.3 1034.5L532.1 1034.5L524.7 1046.7Z" fill="#007f00"/>
<text x="570.3" y="1049.7" class="lg" font-size="33.1">Semi-circular type FBW</text>
<clipPath id="cc"><rect x="100.5" y="1681.5" width="818.8" height="655.6999999999998"/></clipPath>
<path d="M154.6 1681.5V2337.2M263.9 1681.5V2337.2M373.1 1681.5V2337.2M482.4 1681.5V2337.2M591.6 1681.5V2337.2M700.9 1681.5V2337.2M810.2 1681.5V2337.2M100.5 2173.3H919.3M100.5 2009.3H919.3M100.5 1845.4H919.3" stroke="#c8c8c8" stroke-width="1.2" stroke-dasharray="3.9 4.13" fill="none"/>
<path d="M100.0 2337.2v6.5M154.6 2337.2v12.5M209.2 2337.2v6.5M263.9 2337.2v12.5M318.5 2337.2v6.5M373.1 2337.2v12.5M427.8 2337.2v6.5M482.4 2337.2v12.5M537.0 2337.2v6.5M591.6 2337.2v12.5M646.3 2337.2v6.5M700.9 2337.2v12.5M755.5 2337.2v6.5M810.2 2337.2v12.5M864.8 2337.2v6.5M919.4 2337.2v12.5M100.5 2337.2h-12.7M100.5 2173.3h-12.7M100.5 2009.3h-12.7M100.5 1845.4h-12.7M100.5 1681.5h-12.7M100.5 2255.2h-6.5M100.5 2091.3h-6.5M100.5 1927.4h-6.5M100.5 1763.5h-6.5" stroke="#000" stroke-width="2.7" fill="none"/>
<rect x="100.5" y="1681.5" width="818.8" height="655.6999999999998" fill="none" stroke="#000" stroke-width="2.7"/>
<path d="M154.6 2330.6C172.8 2305.7 191.0 2280.8 209.2 2297.7C227.4 2314.6 245.6 2373.3 263.9 2263.3C282.1 2153.3 300.3 1874.6 318.5 1844.4C336.7 1814.3 354.9 2032.7 373.1 2121.3C391.3 2209.9 409.5 2168.7 427.8 2159.2C446.0 2149.6 464.2 2171.8 482.4 2182.6C500.6 2193.4 518.8 2192.9 537.0 2194.9C555.2 2196.9 573.4 2201.4 591.6 2200.6C609.9 2199.8 628.1 2193.7 646.3 2206.7C664.5 2219.7 682.7 2251.9 700.9 2251.2C719.1 2250.5 737.3 2217.0 755.5 2204.2C773.7 2191.5 792.0 2199.5 810.2 2202.3C828.4 2205.0 846.6 2202.5 864.8 2201.3C883.0 2200.2 901.2 2200.4 919.4 2200.7" fill="none" stroke="#000" stroke-width="2.6" clip-path="url(#cc)"/>
<g clip-path="url(#cc)"><rect x="149.7" y="2325.7" width="9.9" height="9.9" fill="#fff" stroke="#000" stroke-width="1"/><rect x="204.3" y="2292.7" width="9.9" height="9.9" fill="#fff" stroke="#000" stroke-width="1"/><rect x="258.9" y="2258.4" width="9.9" height="9.9" fill="#fff" stroke="#000" stroke-width="1"/><rect x="313.5" y="1839.5" width="9.9" height="9.9" fill="#fff" stroke="#000" stroke-width="1"/><rect x="368.2" y="2116.4" width="9.9" height="9.9" fill="#fff" stroke="#000" stroke-width="1"/><rect x="422.8" y="2154.2" width="9.9" height="9.9" fill="#fff" stroke="#000" stroke-width="1"/><rect x="477.4" y="2177.6" width="9.9" height="9.9" fill="#fff" stroke="#000" stroke-width="1"/><rect x="532.1" y="2190.0" width="9.9" height="9.9" fill="#fff" stroke="#000" stroke-width="1"/><rect x="586.7" y="2195.7" width="9.9" height="9.9" fill="#fff" stroke="#000" stroke-width="1"/><rect x="641.3" y="2201.8" width="9.9" height="9.9" fill="#fff" stroke="#000" stroke-width="1"/><rect x="696.0" y="2246.2" width="9.9" height="9.9" fill="#fff" stroke="#000" stroke-width="1"/><rect x="750.6" y="2199.3" width="9.9" height="9.9" fill="#fff" stroke="#000" stroke-width="1"/><rect x="805.2" y="2197.3" width="9.9" height="9.9" fill="#fff" stroke="#000" stroke-width="1"/><rect x="859.8" y="2196.4" width="9.9" height="9.9" fill="#fff" stroke="#000" stroke-width="1"/><rect x="914.5" y="2195.7" width="9.9" height="9.9" fill="#fff" stroke="#000" stroke-width="1"/></g>
<path d="M154.6 2332.1C172.8 2324.2 191.0 2316.3 209.2 2283.9C227.4 2251.4 245.6 2194.5 263.9 2158.8C282.1 2123.2 300.3 2108.7 318.5 2114.3C336.7 2119.9 354.9 2145.6 373.1 2171.6C391.3 2197.7 409.5 2224.1 427.8 2243.8C446.0 2263.4 464.2 2276.3 482.4 2284.5C500.6 2292.8 518.8 2296.3 537.0 2299.3C555.2 2302.3 573.4 2304.8 591.6 2306.4C609.9 2308.0 628.1 2308.6 646.3 2309.7C664.5 2310.7 682.7 2312.1 700.9 2313.0C719.1 2313.9 737.3 2314.2 755.5 2314.6C773.7 2314.9 792.0 2315.3 810.2 2315.6C828.4 2315.8 846.6 2316.0 864.8 2316.2C883.0 2316.4 901.2 2316.6 919.4 2316.9" fill="none" stroke="#f00" stroke-width="2.6" clip-path="url(#cc)"/>
<g clip-path="url(#cc)"><circle cx="154.6" cy="2332.1" r="5.3" fill="#fff" stroke="#f00" stroke-width="1"/><circle cx="209.2" cy="2283.9" r="5.3" fill="#fff" stroke="#f00" stroke-width="1"/><circle cx="263.9" cy="2158.8" r="5.3" fill="#fff" stroke="#f00" stroke-width="1"/><circle cx="318.5" cy="2114.3" r="5.3" fill="#fff" stroke="#f00" stroke-width="1"/><circle cx="373.1" cy="2171.6" r="5.3" fill="#fff" stroke="#f00" stroke-width="1"/><circle cx="427.8" cy="2243.8" r="5.3" fill="#fff" stroke="#f00" stroke-width="1"/><circle cx="482.4" cy="2284.5" r="5.3" fill="#fff" stroke="#f00" stroke-width="1"/><circle cx="537.0" cy="2299.3" r="5.3" fill="#fff" stroke="#f00" stroke-width="1"/><circle cx="591.6" cy="2306.4" r="5.3" fill="#fff" stroke="#f00" stroke-width="1"/><circle cx="646.3" cy="2309.7" r="5.3" fill="#fff" stroke="#f00" stroke-width="1"/><circle cx="700.9" cy="2313.0" r="5.3" fill="#fff" stroke="#f00" stroke-width="1"/><circle cx="755.5" cy="2314.6" r="5.3" fill="#fff" stroke="#f00" stroke-width="1"/><circle cx="810.2" cy="2315.6" r="5.3" fill="#fff" stroke="#f00" stroke-width="1"/><circle cx="864.8" cy="2316.2" r="5.3" fill="#fff" stroke="#f00" stroke-width="1"/><circle cx="919.4" cy="2316.9" r="5.3" fill="#fff" stroke="#f00" stroke-width="1"/></g>
<path d="M154.6 2337.2C172.8 2321.0 191.0 2304.7 209.2 2331.5C227.4 2358.2 245.6 2428.0 263.9 2327.4C282.1 2226.8 300.3 1955.8 318.5 1933.5C336.7 1911.2 354.9 2137.6 373.1 2240.5C391.3 2343.4 409.5 2322.7 427.8 2287.7C446.0 2252.7 464.2 2203.2 482.4 2196.2C500.6 2189.2 518.8 2224.7 537.0 2242.8C555.2 2260.8 573.4 2261.5 591.6 2264.6C609.9 2267.8 628.1 2273.4 646.3 2277.5C664.5 2281.6 682.7 2284.1 700.9 2285.9C719.1 2287.7 737.3 2288.8 755.5 2290.1C773.7 2291.4 792.0 2293.0 810.2 2294.0C828.4 2295.0 846.6 2295.4 864.8 2295.9C883.0 2296.4 901.2 2297.0 919.4 2297.5" fill="none" stroke="#00f" stroke-width="2.6" clip-path="url(#cc)"/>
<g clip-path="url(#cc)"><path d="M147.9 2337.2L154.6 2330.1L161.3 2337.2L154.6 2344.3Z" fill="#fff" stroke="#00f" stroke-width="1"/><path d="M202.5 2331.5L209.2 2324.4L215.9 2331.5L209.2 2338.6Z" fill="#fff" stroke="#00f" stroke-width="1"/><path d="M257.2 2327.4L263.9 2320.3L270.6 2327.4L263.9 2334.5Z" fill="#fff" stroke="#00f" stroke-width="1"/><path d="M311.8 1933.5L318.5 1926.4L325.2 1933.5L318.5 1940.6Z" fill="#fff" stroke="#00f" stroke-width="1"/><path d="M366.4 2240.5L373.1 2233.4L379.8 2240.5L373.1 2247.6Z" fill="#fff" stroke="#00f" stroke-width="1"/><path d="M421.1 2287.7L427.8 2280.6L434.4 2287.7L427.8 2294.8Z" fill="#fff" stroke="#00f" stroke-width="1"/><path d="M475.7 2196.2L482.4 2189.1L489.1 2196.2L482.4 2203.3Z" fill="#fff" stroke="#00f" stroke-width="1"/><path d="M530.3 2242.8L537.0 2235.7L543.7 2242.8L537.0 2249.9Z" fill="#fff" stroke="#00f" stroke-width="1"/><path d="M584.9 2264.6L591.6 2257.5L598.3 2264.6L591.6 2271.7Z" fill="#fff" stroke="#00f" stroke-width="1"/><path d="M639.6 2277.5L646.3 2270.4L653.0 2277.5L646.3 2284.6Z" fill="#fff" stroke="#00f" stroke-width="1"/><path d="M694.2 2285.9L700.9 2278.8L707.6 2285.9L700.9 2293.0Z" fill="#fff" stroke="#00f" stroke-width="1"/><path d="M748.8 2290.1L755.5 2283.0L762.2 2290.1L755.5 2297.2Z" fill="#fff" stroke="#00f" stroke-width="1"/><path d="M803.5 2294.0L810.2 2286.9L816.9 2294.0L810.2 2301.1Z" fill="#fff" stroke="#00f" stroke-width="1"/><path d="M858.1 2295.9L864.8 2288.8L871.5 2295.9L864.8 2303.0Z" fill="#fff" stroke="#00f" stroke-width="1"/><path d="M912.7 2297.5L919.4 2290.4L926.1 2297.5L919.4 2304.6Z" fill="#fff" stroke="#00f" stroke-width="1"/></g>
<path d="M154.6 2337.2C172.8 2338.9 191.0 2340.5 209.2 2325.1C227.4 2309.6 245.6 2277.0 263.9 2310.6C282.1 2344.3 300.3 2444.3 318.5 2306.7C336.7 2169.1 354.9 1793.8 373.1 1779.9C391.3 1765.9 409.5 2113.2 427.8 2211.0C446.0 2308.8 464.2 2157.1 482.4 2124.1C500.6 2091.1 518.8 2176.8 537.0 2216.4C555.2 2256.0 573.4 2249.6 591.6 2251.6C609.9 2253.6 628.1 2264.1 646.3 2270.0C664.5 2275.9 682.7 2277.4 700.9 2279.5C719.1 2281.6 737.3 2284.4 755.5 2286.4C773.7 2288.3 792.0 2289.5 810.2 2290.6C828.4 2291.8 846.6 2293.0 864.8 2293.9C883.0 2294.9 901.2 2295.5 919.4 2296.2" fill="none" stroke="#f0f" stroke-width="2.6" stroke-dasharray="10.2 15.5" stroke-linecap="round" clip-path="url(#cc)"/>
<g clip-path="url(#cc)"><path d="M147.2 2341.5L162.0 2341.5L154.6 2329.3Z" fill="#f0f"/><path d="M201.8 2329.4L216.6 2329.4L209.2 2317.2Z" fill="#f0f"/><path d="M256.5 2314.9L271.3 2314.9L263.9 2302.7Z" fill="#f0f"/><path d="M311.1 2311.0L325.9 2311.0L318.5 2298.8Z" fill="#f0f"/><path d="M365.7 1784.2L380.5 1784.2L373.1 1772.0Z" fill="#f0f"/><path d="M420.4 2215.3L435.1 2215.3L427.8 2203.1Z" fill="#f0f"/><path d="M475.0 2128.4L489.8 2128.4L482.4 2116.2Z" fill="#f0f"/><path d="M529.6 2220.7L544.4 2220.7L537.0 2208.5Z" fill="#f0f"/><path d="M584.2 2255.9L599.0 2255.9L591.6 2243.7Z" fill="#f0f"/><path d="M638.9 2274.3L653.7 2274.3L646.3 2262.1Z" fill="#f0f"/><path d="M693.5 2283.8L708.3 2283.8L700.9 2271.6Z" fill="#f0f"/><path d="M748.1 2290.7L762.9 2290.7L755.5 2278.5Z" fill="#f0f"/><path d="M802.8 2294.9L817.6 2294.9L810.2 2282.7Z" fill="#f0f"/><path d="M857.4 2298.2L872.2 2298.2L864.8 2286.0Z" fill="#f0f"/><path d="M912.0 2300.5L926.8 2300.5L919.4 2288.3Z" fill="#f0f"/></g>
<path d="M154.6 2337.2C172.8 2340.1 191.0 2343.0 209.2 2327.4C227.4 2311.8 245.6 2277.7 263.9 2313.8C282.1 2349.9 300.3 2456.3 318.5 2326.7C336.7 2197.1 354.9 1831.7 373.1 1808.7C391.3 1785.7 409.5 2105.3 427.8 2191.6C446.0 2278.0 464.2 2131.3 482.4 2103.8C500.6 2076.3 518.8 2168.1 537.0 2211.0C555.2 2253.9 573.4 2247.9 591.6 2250.1C609.9 2252.3 628.1 2262.7 646.3 2268.8C664.5 2274.8 682.7 2276.6 700.9 2278.8C719.1 2281.1 737.3 2284.0 755.5 2285.9C773.7 2287.9 792.0 2289.0 810.2 2290.1C828.4 2291.2 846.6 2292.4 864.8 2293.3C883.0 2294.3 901.2 2295.1 919.4 2295.9" fill="none" stroke="#007f00" stroke-width="2.6" stroke-dasharray="10.2 15.5" stroke-linecap="round" clip-path="url(#cc)"/>
<g clip-path="url(#cc)"><path d="M147.2 2333.1L162.0 2333.1L154.6 2345.3Z" fill="#007f00"/><path d="M201.8 2323.3L216.6 2323.3L209.2 2335.5Z" fill="#007f00"/><path d="M256.5 2309.7L271.3 2309.7L263.9 2321.9Z" fill="#007f00"/><path d="M311.1 2322.6L325.9 2322.6L318.5 2334.8Z" fill="#007f00"/><path d="M365.7 1804.6L380.5 1804.6L373.1 1816.8Z" fill="#007f00"/><path d="M420.4 2187.5L435.1 2187.5L427.8 2199.7Z" fill="#007f00"/><path d="M475.0 2099.7L489.8 2099.7L482.4 2111.9Z" fill="#007f00"/><path d="M529.6 2206.9L544.4 2206.9L537.0 2219.1Z" fill="#007f00"/><path d="M584.2 2246.0L599.0 2246.0L591.6 2258.2Z" fill="#007f00"/><path d="M638.9 2264.7L653.7 2264.7L646.3 2276.9Z" fill="#007f00"/><path d="M693.5 2274.7L708.3 2274.7L700.9 2286.9Z" fill="#007f00"/><path d="M748.1 2281.8L762.9 2281.8L755.5 2294.0Z" fill="#007f00"/><path d="M802.8 2286.0L817.6 2286.0L810.2 2298.2Z" fill="#007f00"/><path d="M857.4 2289.2L872.2 2289.2L864.8 2301.4Z" fill="#007f00"/><path d="M912.0 2291.8L926.8 2291.8L919.4 2304.0Z" fill="#007f00"/></g>
<text x="154.6" y="2380.2" text-anchor="middle" class="t">1</text>
<text x="263.9" y="2380.2" text-anchor="middle" class="t">3</text>
<text x="373.1" y="2380.2" text-anchor="middle" class="t">5</text>
<text x="482.4" y="2380.2" text-anchor="middle" class="t">7</text>
<text x="591.6" y="2380.2" text-anchor="middle" class="t">9</text>
<text x="700.9" y="2380.2" text-anchor="middle" class="t">11</text>
<text x="810.2" y="2380.2" text-anchor="middle" class="t">13</text>
<text x="919.4" y="2380.2" text-anchor="middle" class="t">15</text>
<text x="78.5" y="2345.2" text-anchor="end" class="t">0.0</text>
<text x="78.5" y="2181.3" text-anchor="end" class="t">0.5</text>
<text x="78.5" y="2017.3" text-anchor="end" class="t">1.0</text>
<text x="78.5" y="1853.4" text-anchor="end" class="t">1.5</text>
<text x="78.5" y="1689.5" text-anchor="end" class="t">2.0</text>
<text x="509.9" y="2421.2" text-anchor="middle" class="ti">Time Period (<tspan font-style="italic">s</tspan>)</text>
<text transform="translate(22 2009.3) rotate(-90)" text-anchor="middle" class="ti">Capture width ratio - <tspan class="gk">ξ</tspan><tspan class="sub" dy="7">55</tspan></text>
<text x="490" y="2490" text-anchor="middle" class="cap">(c)</text>
<rect x="482.8" y="1687.8" width="431.5" height="210" fill="#fff" stroke="#333" stroke-width="1"/>
<path d="M487.2 1710.6h76.8" stroke="#000" stroke-width="2.6" fill="none"/>
<rect x="521.2" y="1705.6" width="9.9" height="9.9" fill="#fff" stroke="#000" stroke-width="1"/>
<text x="572.8" y="1721.8" class="lg" font-size="34.1">Box type FBW</text>
<path d="M487.2 1750.2h76.8" stroke="#f00" stroke-width="2.6" fill="none"/>
<circle cx="526.2" cy="1750.2" r="5.3" fill="#fff" stroke="#f00" stroke-width="1"/>
<text x="572.8" y="1761.4" class="lg" font-size="34.1">Trapezoidal type FBW</text>
<path d="M487.2 1794.6h76.8" stroke="#00f" stroke-width="2.6" fill="none"/>
<path d="M519.5 1794.6L526.2 1787.5L532.9 1794.6L526.2 1801.7Z" fill="#fff" stroke="#00f" stroke-width="1"/>
<text x="572.8" y="1806" class="lg" font-size="34.1">π-type FBW</text>
<path d="M488.5 1834.3h74.2" stroke="#f0f" stroke-width="2.6" stroke-dasharray="10.2 15.5" stroke-linecap="round" fill="none"/>
<path d="M518.8 1838.6L533.6 1838.6L526.2 1826.4Z" fill="#f0f"/>
<text x="572.8" y="1845.1" class="lg" font-size="34.1">Parabolic type FBW</text>
<path d="M488.5 1874.4h74.2" stroke="#007f00" stroke-width="2.6" stroke-dasharray="10.2 15.5" stroke-linecap="round" fill="none"/>
<path d="M518.8 1870.3L533.6 1870.3L526.2 1882.5Z" fill="#007f00"/>
<text x="572.8" y="1885.7" class="lg" font-size="34.1">Semi-circular type FBW</text>
</svg>
</body></html>
